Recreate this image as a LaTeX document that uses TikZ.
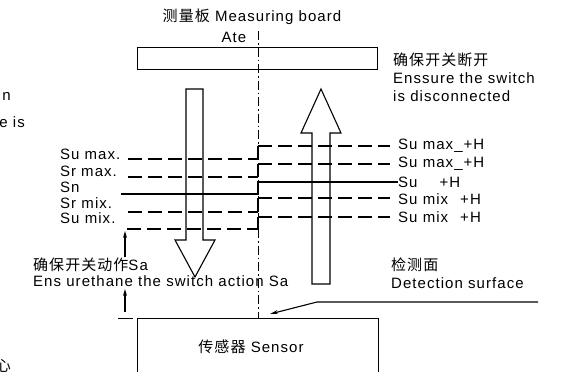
\documentclass[tikz,border=0pt]{standalone}
\usepackage{fontspec}
\setmainfont{Liberation Sans}[LetterSpace=7]
\newfontfamily\cjk{Noto Sans CJK SC}[LetterSpace=7]
\usetikzlibrary{arrows.meta}
\tikzset{
  txt/.style={inner sep=0pt, font=\fontsize{15}{17}\selectfont},
  ln/.style={line width=1.1pt, line cap=butt},
  dsh/.style={line width=1.1pt, dash pattern=on 14pt off 6pt},
  dd/.style={line width=0.9pt, dash pattern=on 9pt off 3pt on 1.5pt off 3pt},
  box/.style={draw, line width=1.2pt, inner sep=0pt},
}
\begin{document}
\begin{tikzpicture}[x=1pt,y=-1pt]
\useasboundingbox (0,0) rectangle (566,372);
\clip (0,0) rectangle (566,372);

% cut-off fragments at left edge
\node[txt, anchor=east] (fragA) at (11,96) {n};
\node[txt, anchor=east] (fragB) at (25,122) {e is};
\node[txt, anchor=east] (fragC) at (11,366) {\cjk 心};

% top titles
\node[txt] (title) at (252,17) {{\cjk 测量板} Measuring board};
\node[txt] (ate) at (234,37) {Ate};

% measuring board
\node[box, anchor=north west, minimum width=240pt, minimum height=22pt] (board) at (137,47) {};

% sensor
\node[box, anchor=north west, minimum width=241pt, minimum height=80pt] (sensor) at (137,318) {};
\node[txt] (sensortxt) at (251,347) {{\cjk 传感器} Sensor};
\coordinate (sl1) at (118,318.5);
\coordinate (sl2) at (133,318.5);
\draw[ln] (sl1) -- (sl2);

% axis
\coordinate (axT) at (258,31);
\coordinate (axB) at (258,318);
\draw[dd] (axT) -- (axB);

% down arrow
\draw[ln, line join=miter] (186,89) -- (203,89) -- (203,240) -- (215,240) -- (195,277) -- (175,240) -- (186,240) -- cycle;
% up arrow
\draw[ln, line join=miter] (321,89) -- (341,133) -- (330,133) -- (330,284) -- (312,284) -- (312,133) -- (301,133) -- cycle;

% left labels
\node[txt, anchor=west] (lu1) at (60,154) {Su\,\,max.};
\node[txt, anchor=west] (lr1) at (60,171) {Sr\,\,max.};
\node[txt, anchor=west] (ln0) at (60,187) {Sn};
\node[txt, anchor=west] (lr2) at (60,203) {Sr mix.};
\node[txt, anchor=west] (lu2) at (60,218) {Su mix.};

% right labels
\node[txt, anchor=west] (ru1) at (398,146) {Su max\_+H};
\node[txt, anchor=west] (ru2) at (398,164) {Su max\_+H};
\node[txt, anchor=west] (rn0) at (398,182) {Su\hspace{22pt}+H};
\node[txt, anchor=west] (ru3) at (398,199) {Su mix\hspace{12pt}+H};
\node[txt, anchor=west] (ru4) at (398,217) {Su mix\hspace{12pt}+H};

% level lines
\foreach \yl/\yr/\xs in {159/146/128, 177/164/128, 212/198/128, 229/217/127}{
  \draw[dsh] (\xs,\yl) -- (258,\yl);
  \draw[ln] (258,\yl) -- (258,\yr);
  \draw[dsh] (258,\yr) -- (390,\yr);
}
\draw[ln] (121,194) -- (258,194) -- (258,182) -- (rn0.west);

% switch action
\node[txt, anchor=west] (sa1) at (33,265) {{\cjk 确保开关动作}Sa};
\node[txt, anchor=west] (sa2) at (33,281) {Ens urethane the switch action Sa};
\coordinate (a1s) at (125,257);
\coordinate (a1e) at (125,231);
\coordinate (a2s) at (125,312);
\coordinate (a2e) at (125,289);
\draw[ln, -{Stealth[length=7pt,width=4pt]}] (a1s) -- (a1e);
\draw[ln, -{Stealth[length=7pt,width=4pt]}] (a2s) -- (a2e);

% disconnect text
\node[txt, anchor=west] (dc1) at (393,60) {\cjk 确保开关断开};
\node[txt, anchor=west] (dc2) at (393,78) {Enssure the switch};
\node[txt, anchor=west] (dc3) at (393,96) {is disconnected};

% detection surface
\node[txt, anchor=west] (ds1) at (391,265) {\cjk 检测面};
\node[txt, anchor=west] (ds2) at (391,283) {Detection surface};
\coordinate (dsR) at (538,302);
\coordinate (dsK) at (317,302);
\coordinate (dsT) at (270,314);
\draw[ln, -{Stealth[length=8pt,width=4pt]}] (dsR) -- (dsK) -- (dsT);
\end{tikzpicture}
\end{document}
